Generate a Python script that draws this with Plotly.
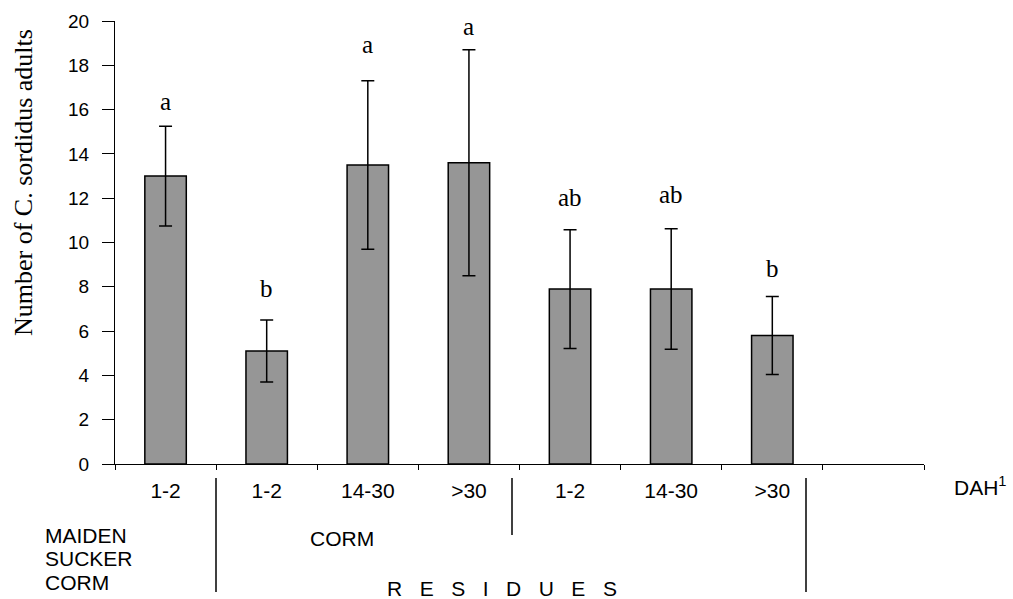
import plotly.graph_objects as go

# ---- data ----
categories = ["1-2", "1-2", "14-30", ">30", "1-2", "14-30", ">30"]
means = [13.0, 5.1, 13.5, 13.6, 7.9, 7.9, 5.8]
errors = [2.25, 1.4, 3.8, 5.1, 2.68, 2.72, 1.76]
letters = ["a", "b", "a", "a", "ab", "ab", "b"]
y_ticks = [0, 2, 4, 6, 8, 10, 12, 14, 16, 18, 20]

# ---- layout constants ----
W, H = 1013, 599
L, R, T, B = 115, 89, 21, 135
PW, PH = W - L - R, H - T - B
letter_gap_px = [25, 32, 36, 23, 32, 34, 28]

def px_x(px):
    return (px - L) / PW

def px_y(py):
    return (H - B - py) / PH

xs = list(range(len(categories)))

fig = go.Figure()
fig.add_trace(go.Bar(
    x=xs, y=means, width=0.41,
    marker=dict(color="#969696", line=dict(color="black", width=1.5)),
    error_y=dict(type="data", array=errors, visible=True,
                 color="black", thickness=1.5, width=6.5),
    showlegend=False,
))

annotations = []
for i, (m, e, s) in enumerate(zip(means, errors, letters)):
    annotations.append(dict(
        x=xs[i], y=m + e, xref="x", yref="y", text=s, showarrow=False,
        yshift=letter_gap_px[i], yanchor="middle", xanchor="center",
        font=dict(family="Liberation Serif", size=25, color="black"),
    ))

sans = dict(family="Liberation Sans, Arial", size=21, color="black")

def note(text, px, py, xanchor="center", font=sans, **kw):
    return dict(x=px_x(px), y=px_y(py), xref="paper", yref="paper",
                text=text, showarrow=False, xanchor=xanchor, yanchor="middle",
                font=font, **kw)

annotations += [
    note("Number of C. sordidus adults", 23, 183, textangle=-90,
         font=dict(family="Liberation Serif", size=26, color="black")),
    note("DAH<sup>1</sup>", 952, 486, xanchor="left"),
    note("MAIDEN", 43, 535, xanchor="left"),
    note("SUCKER", 43, 558, xanchor="left"),
    note("CORM", 43, 582, xanchor="left"),
    note("CORM", 342, 538),
    note("\u00a0\u00a0\u00a0".join(list("RESIDUES")), 502, 588),
]

line = dict(color="black", width=1.5)
shapes = [
    dict(type="line", xref="paper", yref="paper", x0=px_x(216), x1=px_x(216),
         y0=px_y(478), y1=px_y(592), line=line),
    dict(type="line", xref="paper", yref="paper", x0=px_x(512), x1=px_x(512),
         y0=px_y(478), y1=px_y(535), line=line),
    dict(type="line", xref="paper", yref="paper", x0=px_x(806), x1=px_x(806),
         y0=px_y(478), y1=px_y(592), line=line),
]

fig.update_layout(
    width=W, height=H,
    margin=dict(l=L, r=R, t=T, b=B, pad=0),
    plot_bgcolor="white", paper_bgcolor="white",
    annotations=annotations, shapes=shapes,
    xaxis=dict(
        range=[-0.5, 7.5], tickmode="array", tickvals=xs, ticktext=categories,
        ticks="", showgrid=False, zeroline=False,
        showline=True, linecolor="black", linewidth=1,
        tickfont=sans, ticklabelstandoff=8,
        minor=dict(tickmode="array", tickvals=[i - 0.5 for i in range(9)],
                   ticks="outside", ticklen=5, tickcolor="black", tickwidth=1,
                   showgrid=False),
    ),
    yaxis=dict(
        range=[0, 20], tickmode="array", tickvals=y_ticks,
        ticks="outside", ticklen=12, tickcolor="black", tickwidth=1,
        showgrid=False, zeroline=False,
        showline=True, linecolor="black", linewidth=1,
        tickfont=dict(family="Liberation Sans, Arial", size=19, color="black"),
        ticklabelstandoff=9,
    ),
)

fig.write_html(
    "out.html",
    config={"displayModeBar": False},
    post_script="document.body.style.margin='0';document.body.style.overflow='hidden';",
)
